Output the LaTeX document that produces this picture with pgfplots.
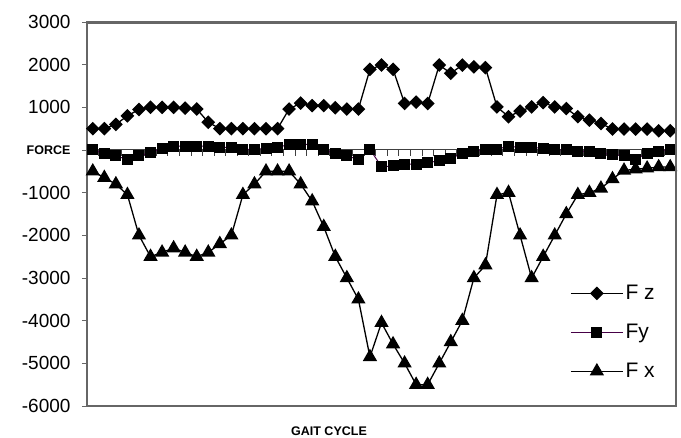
\documentclass[border=0pt]{standalone}
\usepackage{pgfplots}
\pgfplotsset{compat=1.18}
\usepackage{fontspec}
\setmainfont{Liberation Sans}
\definecolor{fypurple}{RGB}{70,0,70}
\begin{document}
\begin{tikzpicture}
\path[use as bounding box] (0,0) rectangle (681pt,438pt);
\begin{axis}[
  at={(87pt,32pt)}, anchor=south west,
  width=589pt, height=384pt, scale only axis,
  axis lines=box,
  xmin=-0.5, xmax=50.5, ymin=-6000, ymax=3000,
  xtick=\empty,
  ytick={-6000,-5000,-4000,-3000,-2000,-1000,0,1000,2000,3000},
  yticklabels={-6000,-5000,-4000,-3000,-2000,-1000,{\fontsize{12.5}{13}\selectfont\bfseries FORCE},1000,2000,3000},
  ytick pos=left, tick align=outside, major tick length=5pt,
  tick style={black!60, line width=0.8pt},
  yticklabel style={font=\fontsize{19}{22}\selectfont, xshift=-8pt},
  /pgf/number format/assume math mode=true,
  axis line style={black!60, line width=1.6pt},
  clip=false,
  legend style={draw=none, fill=none, font=\fontsize{21}{24}\selectfont,
    at={(axis description cs:0.815,0.325)}, anchor=north west, row sep=19pt},
  legend cell align=left,
  legend image code/.code={\draw[mark repeat=2,mark phase=2] plot coordinates {(0pt,0pt)(26pt,0pt)(52pt,0pt)};},
]
\draw[black!75, line width=1pt] (axis cs:-0.5,0) -- (axis cs:50.5,0);
\pgfplotsinvokeforeach{0,...,49}{\draw[black!75, line width=0.7pt] (axis cs:#1.5,0) -- ([yshift=-6pt]axis cs:#1.5,0);}
\addplot[black, line width=1.3pt, mark=square*, mark size=4.2pt, mark options={rotate=45, solid, fill=black}] coordinates {
(0,500)(1,500)(2,600)(3,800)(4,950)(5,1000)(6,1000)(7,1000)(8,980)(9,960)
(10,650)(11,500)(12,500)(13,500)(14,500)(15,500)(16,500)(17,960)(18,1100)(19,1040)
(20,1040)(21,990)(22,960)(23,960)(24,1890)(25,1990)(26,1890)(27,1090)(28,1120)(29,1090)
(30,1990)(31,1800)(32,1990)(33,1950)(34,1930)(35,1010)(36,780)(37,910)(38,1010)(39,1110)
(40,1010)(41,970)(42,780)(43,700)(44,620)(45,490)(46,490)(47,490)(48,490)(49,450)(50,450)};
\addlegendentry{F z}
\addplot[fypurple, line width=1pt, mark=square*, mark size=5pt, mark options={solid, fill=black, draw=black}] coordinates {
(0,0)(1,-80)(2,-140)(3,-220)(4,-140)(5,-60)(6,40)(7,90)(8,90)(9,90)
(10,90)(11,60)(12,60)(13,15)(14,15)(15,40)(16,60)(17,130)(18,130)(19,130)
(20,0)(21,-80)(22,-140)(23,-220)(24,15)(25,-390)(26,-375)(27,-330)(28,-330)(29,-300)
(30,-250)(31,-195)(32,-80)(33,-25)(34,15)(35,15)(36,90)(37,60)(38,60)(39,40)
(40,0)(41,0)(42,-25)(43,-40)(44,-80)(45,-100)(46,-140)(47,-220)(48,-80)(49,-25)(50,15)};
\addlegendentry{Fy}
\addplot[black, line width=1.3pt, mark=triangle*, mark size=7pt, mark options={solid, fill=black}] coordinates {
(0,-500)(1,-650)(2,-800)(3,-1050)(4,-2000)(5,-2500)(6,-2400)(7,-2300)(8,-2400)(9,-2500)
(10,-2400)(11,-2200)(12,-2000)(13,-1050)(14,-800)(15,-500)(16,-500)(17,-500)(18,-800)(19,-1200)
(20,-1800)(21,-2500)(22,-3000)(23,-3500)(24,-4850)(25,-4050)(26,-4550)(27,-5000)(28,-5500)(29,-5500)
(30,-5000)(31,-4500)(32,-4000)(33,-3000)(34,-2700)(35,-1050)(36,-1000)(37,-2000)(38,-3000)(39,-2500)
(40,-2000)(41,-1500)(42,-1050)(43,-1000)(44,-900)(45,-680)(46,-480)(47,-450)(48,-430)(49,-400)(50,-400)};
\addlegendentry{F x}
\end{axis}
\fill[black!60] (86.2pt,414.4pt) rectangle (676.5pt,416.4pt);
\fill[black!60] (674.5pt,31.2pt) rectangle (676.5pt,416.4pt);
\node[anchor=base, font=\fontsize{12.5}{13}\selectfont\bfseries, inner sep=0pt] at (329pt,2pt) {GAIT CYCLE};
\end{tikzpicture}
\end{document}
